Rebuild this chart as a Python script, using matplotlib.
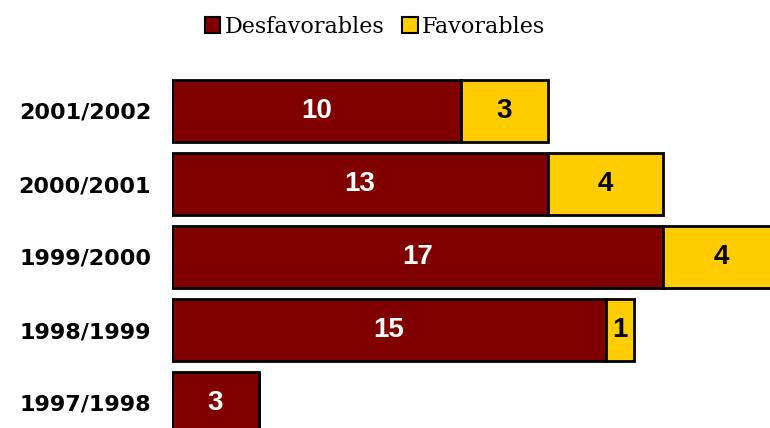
import matplotlib
matplotlib.use("Agg")
import matplotlib.pyplot as plt
from matplotlib.patches import Patch
from matplotlib import font_manager as fm

categories = ["2001/2002", "2000/2001", "1999/2000", "1998/1999", "1997/1998"]
desfavorables = [10, 13, 17, 15, 3]
favorables = [3, 4, 4, 1, 0]

c_des = "#800000"
c_fav = "#FFCC00"

# find regular-width Liberation Sans Bold
num_font = None
for f in fm.fontManager.ttflist:
    if f.name == "Liberation Sans" and f.weight in (700, "bold") and f.style == "normal" \
            and "Narrow" not in f.fname:
        num_font = fm.FontProperties(fname=f.fname, size=20)
        break
if num_font is None:
    num_font = fm.FontProperties(family="DejaVu Sans", weight="bold", size=17)

fig = plt.figure(figsize=(7.7, 4.28), dpi=100)
ax = fig.add_axes([172 / 770, 0, 1 - 172 / 770, 1])
ax.set_xlim(0, (770 - 172) / 28.9)
ax.set_ylim((428 - 111) / 73, -111 / 73)

ypos = list(range(len(categories)))
h = 0.85
ax.barh(ypos, desfavorables, height=h, color=c_des, edgecolor="black", linewidth=2)
ax.barh(ypos, favorables, left=desfavorables, height=h, color=c_fav, edgecolor="black", linewidth=2)

for y, d, f in zip(ypos, desfavorables, favorables):
    if d > 0:
        ax.text(d / 2, y, str(d), ha="center", va="center", color="white", fontproperties=num_font)
    if f > 0:
        ax.text(d + f / 2, y, str(f), ha="center", va="center", color="black", fontproperties=num_font)

ax.set_yticks(ypos)
ax.set_yticklabels(categories, family="DejaVu Sans", fontweight="bold", fontsize=16)
ax.tick_params(axis="y", length=0, pad=15)
ax.set_xticks([])
for s in ax.spines.values():
    s.set_visible(False)

handles = [Patch(facecolor=c_des, edgecolor="black", linewidth=1.5, label="Desfavorables"),
           Patch(facecolor=c_fav, edgecolor="black", linewidth=1.5, label="Favorables")]
fig.legend(handles=handles, loc="center", bbox_to_anchor=(375 / 770, 1 - 27 / 428), ncol=2,
           frameon=False, prop={"family": "DejaVu Serif", "size": 16},
           handlelength=0.7, handleheight=0.7, handletextpad=0.2, columnspacing=0.8)

fig.savefig("out.png", dpi=100)
